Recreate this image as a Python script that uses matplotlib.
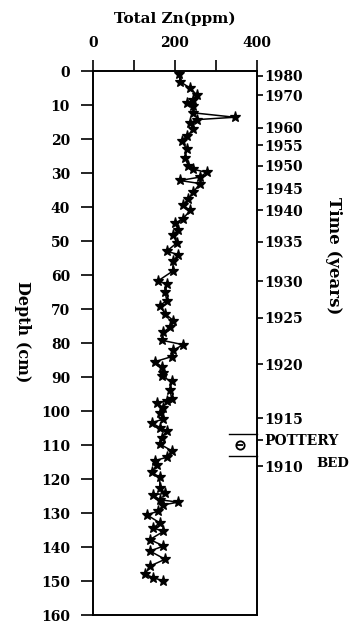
import numpy as np
import matplotlib
matplotlib.use("Agg")
import matplotlib.pyplot as plt

plt.rcParams['font.family'] = ['DejaVu Serif']
plt.rcParams['font.weight'] = 'bold'

# depth (cm) and total Zn (ppm)
depth = [0.9, 3.1, 5.0, 7.0, 8.5, 9.4, 10.4, 12.3, 13.6, 14.3, 15.2, 17.2, 19.1,
         20.6, 23.0, 25.5, 27.9, 28.9, 29.8, 31.2, 32.2, 33.1, 35.6, 37.5, 39.5,
         41.0, 43.4, 44.8, 46.7, 48.2, 50.6, 53.0, 54.0, 56.0, 58.9, 61.7, 62.7,
         65.1, 67.5, 69.0, 71.4, 73.4, 75.3, 76.8, 79.2, 80.5, 82.1, 84.0, 85.5,
         87.0, 88.9, 89.8, 91.3, 93.7, 96.6, 97.1, 97.6, 99.0, 100.5, 102.4, 103.4,
         104.9, 105.8, 107.8, 109.7, 111.7, 113.6, 114.6, 116.0, 118.0, 119.5,
         122.7, 124.2, 124.7, 126.1, 126.8, 127.6, 129.5, 130.5, 132.9, 134.4,
         135.4, 137.8, 139.7, 141.2, 143.6, 145.6, 148.0, 149.0, 150.0]
zn = [211, 212, 237, 253, 245, 229, 245, 245, 346, 253, 237, 245, 229,
      216, 229, 224, 233, 245, 277, 261, 212, 261, 245, 233, 220,
      237, 220, 200, 208, 196, 204, 180, 208, 196, 194, 159, 180,
      176, 180, 163, 176, 196, 188, 172, 168, 220, 196, 192, 151,
      168, 172, 168, 192, 188, 192, 180, 155, 172, 163, 172, 143,
      163, 180, 168, 163, 192, 180, 151, 155, 143, 163,
      163, 176, 147, 163, 208, 172, 159, 131, 163, 147,
      172, 139, 172, 139, 176, 139, 127, 147, 172]

# time scale on the right axis (depth of each year mark)
years = ['1980', '1970', '1960', '1955', '1950', '1945', '1940',
         '1935', '1930', '1925', '1920', '1915', '1910']
year_depth = [1.4, 7.2, 16.7, 21.9, 27.9, 34.7, 41.0,
              50.2, 61.9, 72.6, 86.2, 102.2, 116.3]
pottery_depth = 108.5
pottery_top, pottery_bottom = 106.9, 113.1

fig = plt.figure(figsize=(3.51, 6.24), dpi=100)
ax = fig.add_axes([0.265, 0.0144, 0.467, 0.8718])

ax.plot(zn, depth, color='black', lw=1.1, marker='*', ms=8, mew=0.9)

ax.set_xlim(0, 400)
ax.set_ylim(160, 0)
ax.xaxis.tick_top()
ax.set_xticks([0, 100, 200, 300, 400], labels=['0', '', '200', '', '400'])
ax.set_yticks(np.arange(0, 161, 10))
ax.tick_params(axis='x', direction='out', length=8, width=1.2, pad=7, labelsize=10)
ax.tick_params(axis='y', direction='out', length=8.5, width=1.2, pad=8, labelsize=10)
for s in ax.spines.values():
    s.set_linewidth(1.2)

ax.text(0.5, 1.0 + 52 / 544, 'Total Zn(ppm)', transform=ax.transAxes,
        ha='center', va='center', fontsize=11)
fig.text(0.063, 0.468, 'Depth (cm)', rotation=270, ha='center', va='center',
         fontsize=11.5)

# right axis: years
ax2 = ax.twinx()
ax2.set_ylim(160, 0)
ax2.set_yticks(year_depth + [pottery_depth], labels=years + ['POTTERY'])
ax2.tick_params(axis='y', direction='out', length=4.5, width=1.2, pad=1, labelsize=10)
for s in ax2.spines.values():
    s.set_linewidth(1.2)
ax2.text(545, 115.4, 'BED', ha='left', va='center', fontsize=9.5, clip_on=False)
fig.text(0.95, 0.59, 'Time (years)', rotation=270, ha='center', va='center',
         fontsize=12)

# pottery bed bracket
ax.plot([333, 400], [pottery_top, pottery_top], color='black', lw=1.0, clip_on=False)
ax.plot([333, 400], [pottery_bottom, pottery_bottom], color='black', lw=1.0, clip_on=False)
ax.plot([359], [110.0], marker='o', ms=6, mfc='white', mec='black', mew=1.3)
ax.plot([359], [110.0], marker='_', ms=5, color='black', mew=1.3)

fig.savefig('out.png', dpi=100)
